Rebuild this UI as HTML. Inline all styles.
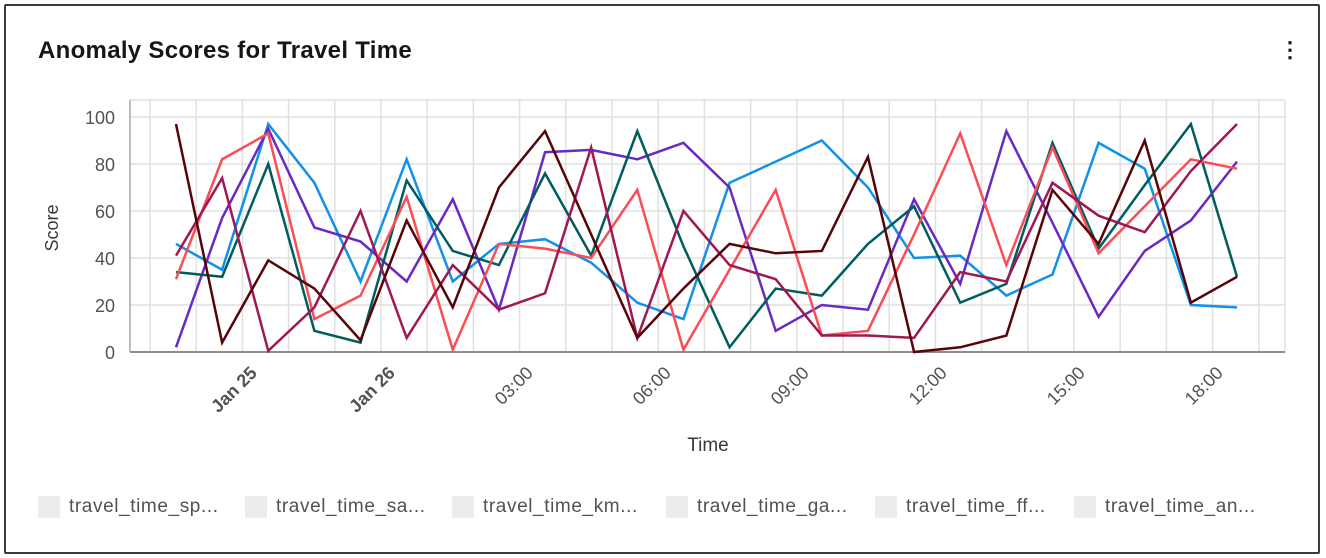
<!DOCTYPE html>
<html><head><meta charset="utf-8"><style>
body{margin:0;width:1326px;height:558px;background:#fff;overflow:hidden;font-family:"Liberation Sans",sans-serif}
#card{position:absolute;left:4px;top:4px;width:1312px;height:546px;border:2px solid #3a3a3a;border-radius:2px;background:#fff}
#title{position:absolute;left:38px;top:37px;font-size:24px;font-weight:bold;color:#161616;letter-spacing:0.3px}
#kebab{position:absolute;left:1279px;top:37px;font-size:22px;font-weight:bold;color:#161616}
.leg{position:absolute;top:496px;display:flex;align-items:center;font-size:19px;letter-spacing:0.6px;color:#525252}
.sw{width:22px;height:22px;background:#ececec;margin-right:9px}
</style></head><body>
<div id="card"></div>
<div id="title">Anomaly Scores for Travel Time</div>
<div id="kebab">⋮</div>
<svg id="chart" width="1326" height="558" style="position:absolute;left:0;top:0"></svg>
<div class="leg" style="left:38px"><div class="sw"></div>travel_time_sp...</div>
<div class="leg" style="left:245px"><div class="sw"></div>travel_time_sa...</div>
<div class="leg" style="left:452px"><div class="sw"></div>travel_time_km...</div>
<div class="leg" style="left:666px"><div class="sw"></div>travel_time_ga...</div>
<div class="leg" style="left:875px"><div class="sw"></div>travel_time_ff...</div>
<div class="leg" style="left:1074px"><div class="sw"></div>travel_time_an...</div>
<script>
const xLabels=["Jan 25","Jan 26","03:00","06:00","09:00","12:00","15:00","18:00"];
const yTicks=[0,20,40,60,80,100];
const seriesBlue=[46,35,97,72,30,82,30,46,48,38,21,14,72,81,90,70,40,41,24,33,89,78,20,19];
const seriesPurple=[2,57,95,53,47,30,65,18,85,86,82,89,70,9,20,18,65,29,94,55,15,43,56,81];
const seriesTeal=[34,32,80,9,4,73,43,37,76,41,94,45,2,27,24,46,62,21,29,89,44,71,97,32];
const seriesRed=[31,82,93,14,24,66,1,46,44,40,69,1,35,69,7,9,50,93,37,87,42,62,82,78];
const seriesMagenta=[41,74,0.5,19,60,6,37,18,25,87,6,60,37,31,7,7,6,34,30,72,58,51,77,97];
const seriesBrown=[97,4,39,27,5,56,19,70,94,50,6,27,46,42,43,83,0,2,7,69,46,90,21,32];
const allSeries=[[seriesBlue,"#1192e8","blue"],[seriesPurple,"#6929c4","purple"],[seriesTeal,"#005d5d","teal"],[seriesRed,"#fa4d56","red"],[seriesMagenta,"#9f1853","magenta"],[seriesBrown,"#570408","brown"]];
const NS="http://www.w3.org/2000/svg",svg=document.getElementById("chart");
const L=130,R=1285,T=100,B=352;
const yScale=v=>B-(v/100)*235;
const xScale=i=>176+46.13*i;
function mk(t,a){const e=document.createElementNS(NS,t);for(const k in a)e.setAttribute(k,a[k]);svg.appendChild(e);return e;}
for(let k=0;k<26;k++){const x=150+46.2*k;if(x>R)break;const g=mk("line",{x1:x,x2:x,y1:T,y2:B,stroke:"#e0e0e0","stroke-width":1.5});

}
yTicks.forEach(v=>{const y=yScale(v);const g=mk("line",{x1:L,x2:R,y1:y,y2:y,stroke:"#e0e0e0","stroke-width":1.5});


const t=mk("text",{x:115,y:y+7,"text-anchor":"end","font-size":18,fill:"#525252"});t.textContent=v;

});
mk("line",{x1:L,x2:R,y1:T,y2:T,stroke:"#e0e0e0","stroke-width":1.5});
mk("line",{x1:R,x2:R,y1:T,y2:B,stroke:"#e0e0e0","stroke-width":1.5});
const ax=mk("line",{x1:L,x2:R,y1:B,y2:B,stroke:"#8d8d8d","stroke-width":2});


const ay=mk("line",{x1:L,x2:L,y1:T,y2:B,stroke:"#a8a8a8","stroke-width":1.5});


xLabels.forEach((s,k)=>{const x=258+138*k,y=374;const t=mk("text",{x:x,y:y,"text-anchor":"end","font-size":18,fill:"#525252","font-weight":k<2?"bold":"normal",transform:`rotate(-45 ${x} ${y})`});t.textContent=s;

});
allSeries.forEach(([d,c,n])=>{const p=mk("polyline",{points:d.map((v,i)=>xScale(i)+","+yScale(v)).join(" "),fill:"none",stroke:c,"stroke-width":2.5,"stroke-linejoin":"miter"});

});
const yt=mk("text",{x:58,y:228,"text-anchor":"middle","font-size":18,fill:"#393939",transform:"rotate(-90 58 228)"});yt.textContent="Score";


const xt=mk("text",{x:708,y:451,"text-anchor":"middle","font-size":19,fill:"#393939"});xt.textContent="Time";


</script>
</body></html>
